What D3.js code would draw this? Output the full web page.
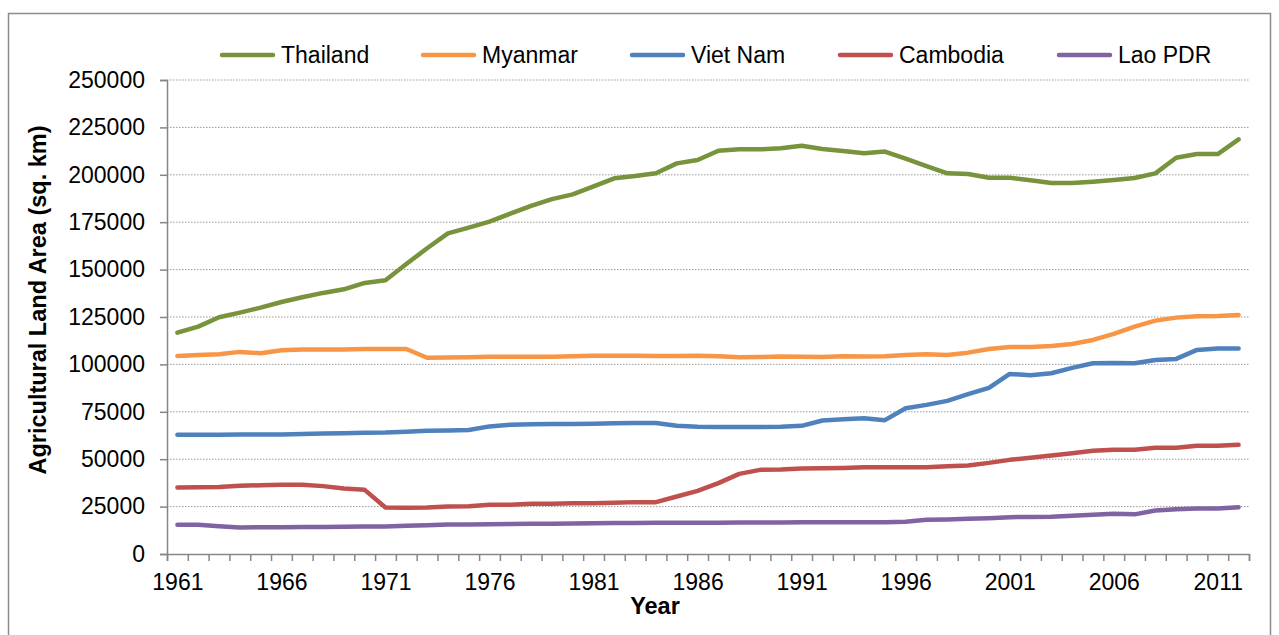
<!DOCTYPE html>
<html>
<head>
<meta charset="utf-8">
<script src="https://cdn.jsdelivr.net/npm/d3@7"></script>
<style>
  body { margin: 0; background: #fff; }
  svg { display: block; font-family: 'Liberation Sans', Arial, sans-serif; }
</style>
</head>
<body>
<script>
// Data (sq. km), 1961 - 2012
const years = d3.range(1961, 2013)
const yTicks = [0, 25000, 50000, 75000, 100000, 125000, 150000, 175000, 200000, 225000, 250000]
const xLabels = [1961, 1966, 1971, 1976, 1981, 1986, 1991, 1996, 2001, 2006, 2011]

const thailand = [116750, 119900, 124870, 127300, 129930, 132930, 135400, 137700, 139600, 142950,
  144350, 152950, 161250, 169130, 172100, 175260, 179480, 183600, 187200, 189700,
  193900, 198130, 199340, 200770, 206040, 207780, 212680, 213420, 213420, 213950,
  215320, 213580, 212520, 211310, 212260, 208500, 204620, 200770, 200400, 198450,
  198450, 197080, 195660, 195660, 196340, 197240, 198290, 200770, 209000, 210940,
  210940, 218690]
const myanmar = [104470, 105000, 105350, 106600, 105900, 107500, 107800, 107800, 107800, 108100,
  108100, 108100, 103500, 103600, 103800, 104000, 104000, 104000, 104100, 104300,
  104500, 104600, 104600, 104400, 104400, 104500, 104300, 103800, 103900, 104200,
  104100, 103900, 104300, 104200, 104300, 104900, 105300, 105000, 106200, 108160,
  109220, 109220, 109740, 110800, 112900, 116070, 119930, 123090, 124670, 125380,
  125560, 126090]
const vietNam = [62830, 62830, 62900, 63000, 63000, 63000, 63300, 63500, 63700, 64000,
  64100, 64500, 65000, 65200, 65400, 67300, 68200, 68400, 68500, 68600,
  68700, 68900, 69100, 69100, 67600, 67100, 67000, 67000, 67000, 67100,
  67600, 70400, 71100, 71600, 70600, 76900, 78650, 80760, 84280, 87600,
  94980, 94280, 95340, 98140, 100600, 100800, 100600, 102360, 102900, 107630,
  108330, 108330]
const cambodia = [35050, 35230, 35400, 35950, 36300, 36480, 36480, 35800, 34530, 33830,
  24510, 24340, 24510, 25040, 25200, 25930, 25930, 26460, 26460, 26830,
  26830, 27000, 27360, 27360, 30310, 33310, 37370, 42270, 44380, 44560,
  45070, 45240, 45400, 45800, 45800, 45800, 45800, 46330, 46680, 48070,
  49650, 50710, 51940, 53170, 54400, 54930, 54930, 55980, 55980, 57040,
  57040, 57570]
const laoPDR = [15380, 15380, 14680, 13970, 14100, 14150, 14200, 14300, 14400, 14500,
  14500, 14860, 15200, 15500, 15600, 15700, 15800, 15900, 16000, 16100,
  16200, 16300, 16400, 16450, 16450, 16500, 16500, 16550, 16600, 16650,
  16700, 16700, 16700, 16750, 16800, 16970, 18030, 18200, 18550, 18900,
  19430, 19500, 19600, 20130, 20660, 21190, 20900, 22950, 23650, 24000,
  24000, 24700]

const seriesNames = ['Thailand', 'Myanmar', 'Viet Nam', 'Cambodia', 'Lao PDR']
const seriesValues = [thailand, myanmar, vietNam, cambodia, laoPDR]
const seriesColors = ['#77933C', '#F79646', '#4F81BD', '#C0504D', '#8064A2']

// Layout
const width = 1279
const height = 635
const plotLeft = 167
const plotRight = 1249
const plotTop = 80
const plotBottom = 554
const axisColor = '#868686'

const svg = d3.select('body')
  .append('svg')
  .attr('width', width)
  .attr('height', height)

// Chart area border
svg.append('rect')
  .attr('x', 8.5)
  .attr('y', 13.5)
  .attr('width', 1262)
  .attr('height', 640)
  .attr('fill', 'none')
  .attr('stroke', '#8c8c8c')
  .attr('stroke-width', 1.5)

// Scales: categories sit between tick marks
const xScale = d3.scaleLinear()
  .domain([years[0] - 0.5, years[years.length - 1] + 0.5])
  .range([plotLeft, plotRight])
const yScale = d3.scaleLinear()
  .domain([0, 250000])
  .range([plotBottom, plotTop])

// Gridlines
svg.append('g')
  .selectAll('line')
  .data(yTicks.slice(1))
  .enter()
  .append('line')
  .attr('x1', plotLeft)
  .attr('x2', plotRight)
  .attr('y1', d => yScale(d))
  .attr('y2', d => yScale(d))
  .attr('stroke', '#9a9a9a')
  .attr('stroke-width', 1)
  .attr('stroke-dasharray', '1.5,1.5')

// Y axis
const yAxis = svg.append('g')
  .attr('transform', `translate(${plotLeft}, 0)`)
  .call(d3.axisLeft(yScale).tickValues(yTicks).tickSize(7).tickPadding(15).tickFormat(d => d))
yAxis.selectAll('text')
  .attr('font-size', 23)
  .attr('fill', '#000')
  .attr('font-family', "'Liberation Sans', Arial, sans-serif")

// X axis: tick marks at category boundaries
const xAxis = svg.append('g')
  .attr('transform', `translate(0, ${plotBottom})`)
  .call(d3.axisBottom(xScale)
    .tickValues(years.map(d => d - 0.5).concat([years[years.length - 1] + 0.5]))
    .tickSize(7)
    .tickFormat(''))

// X labels every 5 years
const xLabelAxis = svg.append('g')
  .attr('transform', `translate(0, ${plotBottom})`)
  .call(d3.axisBottom(xScale).tickValues(xLabels).tickSize(0).tickPadding(20).tickFormat(d => d))
xLabelAxis.select('.domain').remove()
xLabelAxis.selectAll('text')
  .attr('font-size', 23)
  .attr('fill', '#000')
  .attr('font-family', "'Liberation Sans', Arial, sans-serif")

svg.selectAll('.domain, .tick line')
  .attr('stroke', axisColor)
  .attr('stroke-width', 1.5)

// Axis titles
svg.append('text')
  .attr('x', 655)
  .attr('y', 614)
  .attr('text-anchor', 'middle')
  .attr('font-size', 23.5)
  .attr('font-weight', 'bold')
  .text('Year')

svg.append('text')
  .attr('transform', 'translate(46, 300) rotate(-90)')
  .attr('text-anchor', 'middle')
  .attr('font-size', 23.5)
  .attr('font-weight', 'bold')
  .text('Agricultural Land Area (sq. km)')

// Lines
const line = d3.line()
  .x((d, i) => xScale(years[i]))
  .y(d => yScale(d))

svg.append('g')
  .selectAll('path')
  .data(seriesValues)
  .enter()
  .append('path')
  .attr('d', d => line(d))
  .attr('fill', 'none')
  .attr('stroke', (d, i) => seriesColors[i])
  .attr('stroke-width', 4.5)
  .attr('stroke-linejoin', 'round')
  .attr('stroke-linecap', 'round')

// Legend
const legendX = [220, 421, 630, 838, 1057]
const legend = svg.append('g')
const item = legend.selectAll('g')
  .data(seriesNames)
  .enter()
  .append('g')
  .attr('transform', (d, i) => `translate(${legendX[i]}, 55)`)
item.append('line')
  .attr('x1', 2)
  .attr('x2', 53)
  .attr('stroke', (d, i) => seriesColors[i])
  .attr('stroke-width', 4.5)
  .attr('stroke-linecap', 'round')
item.append('text')
  .attr('x', 61)
  .attr('y', 8)
  .attr('font-size', 23)
  .text(d => d)
</script>
</body>
</html>
